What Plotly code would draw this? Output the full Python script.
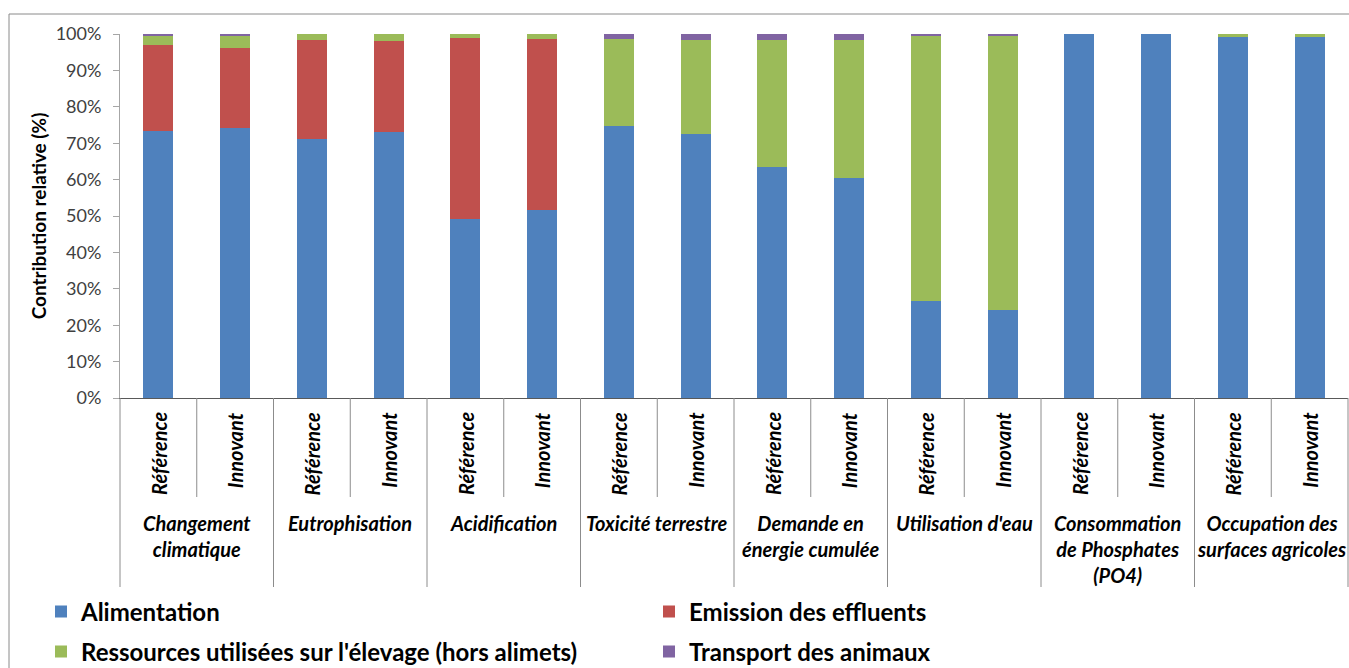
import plotly.graph_objects as go

groups = ["Changement<br>climatique", "Eutrophisation", "Acidification", "Toxicité terrestre",
          "Demande en<br>énergie cumulée", "Utilisation d'eau",
          "Consommation<br>de Phosphates<br>(PO4)", "Occupation des<br>surfaces agricoles"]
scenarios = ["Référence", "Innovant"]

alimentation = [73.4, 74.3, 71.2, 73.0, 49.2, 51.6, 74.8, 72.4, 63.4, 60.4, 26.6, 24.2, 100.0, 100.0, 99.3, 99.2]
effluents    = [23.6, 21.9, 27.2, 25.1, 49.8, 47.0, 0.0, 0.0, 0.0, 0.0, 0.0, 0.0, 0.0, 0.0, 0.0, 0.0]
ressources   = [2.5, 3.3, 1.6, 1.9, 1.0, 1.4, 23.8, 26.0, 35.0, 38.0, 72.9, 75.3, 0.0, 0.0, 0.7, 0.8]
transport    = [0.5, 0.5, 0.0, 0.0, 0.0, 0.0, 1.4, 1.6, 1.6, 1.6, 0.5, 0.5, 0.0, 0.0, 0.0, 0.0]

series_names = ["Alimentation", "Emission des effluents",
                "Ressources utilisées sur l'élevage (hors alimets)", "Transport des animaux"]
series_values = [alimentation, effluents, ressources, transport]
colors = ["#4F81BD", "#C0504D", "#9BBB59", "#8064A2"]
legend_ids = ["legend", "legend", "legend2", "legend2"]

y_ticks = list(range(0, 101, 10))

# category labels
cats = []
for g in groups:
    for s in scenarios:
        cats.append(g.replace("<br>", " ") + " | " + s)
n = len(cats)

FONT = "Lato"
fig = go.Figure()
for name, vals, col, lg in zip(series_names, series_values, colors, legend_ids):
    fig.add_trace(go.Bar(x=cats, y=vals, name=name, marker=dict(color=col, line=dict(width=0)),
                         legend=lg, hoverinfo="skip"))

# geometry helpers (pixel -> paper)
L, R, T, B = 120, 1, 34, 270
W, H = 1349, 668
pw, ph = W - L - R, H - T - B
def py(pix):
    return (H - B - pix) / ph
def px(pix):
    return (pix - L) / pw

shapes = []
annotations = []
# dividers
for k in range(n + 1):
    is_group = (k % 2 == 0)
    shapes.append(dict(type="line", xref="paper", yref="paper",
                       x0=k / n, x1=k / n, y0=0, y1=py(587 if is_group else 497),
                       line=dict(color="#8c8c8c", width=1)))
# inner labels
for i, c in enumerate(cats):
    annotations.append(dict(x=i, y=py(410), xref="x", yref="paper", text=scenarios[i % 2],
                            textangle=-90, showarrow=False, yanchor="top", xanchor="center",
                            font=dict(family=FONT, size=20, color="#000", weight="bold", style="italic")))
# group labels
for gi, g in enumerate(groups):
    annotations.append(dict(x=2 * gi + 0.5, y=py(509), xref="x", yref="paper", text=g,
                            showarrow=False, yanchor="top", xanchor="center",
                            font=dict(family=FONT, size=20, color="#000", weight="bold", style="italic")))

# outer border
shapes.append(dict(type="rect", xref="paper", yref="paper", x0=px(9), x1=px(1400), y0=py(720), y1=py(14),
                   line=dict(color="#8a8a8a", width=1), fillcolor="rgba(0,0,0,0)"))

legend_font = dict(family=FONT, size=24, color="#000", weight="bold")
fig.update_layout(
    width=W, height=H,
    margin=dict(l=L, r=R, t=T, b=B, autoexpand=False),
    barmode="stack", bargap=0.61,
    plot_bgcolor="white", paper_bgcolor="white",
    font=dict(family=FONT, color="#404040"),
    xaxis=dict(type="category", range=[-0.5, n - 0.5], showticklabels=False, ticks="",
               showline=True, linecolor="#595959", linewidth=1, showgrid=False, zeroline=False),
    yaxis=dict(range=[0, 100], tickvals=y_ticks, ticktext=[f"{v}%" for v in y_ticks],
               showline=True, linecolor="#a6a6a6", linewidth=1, ticks="outside", ticklen=6,
               tickcolor="#a6a6a6", showgrid=False, zeroline=False,
               tickfont=dict(family=FONT, size=18, color="#404040"), ticklabelstandoff=8,
               title=dict(text="Contribution relative (%)", standoff=4,
                          font=dict(family=FONT, size=19, color="#000", weight="bold"))),
    legend=dict(orientation="h", x=px(41), xanchor="left", y=py(612), yanchor="middle",
                entrywidth=563, entrywidthmode="pixels", traceorder="normal",
                font=legend_font, bgcolor="rgba(0,0,0,0)"),
    legend2=dict(orientation="h", x=px(41), xanchor="left", y=py(652), yanchor="middle",
                 entrywidth=563, entrywidthmode="pixels", traceorder="normal",
                 font=legend_font, bgcolor="rgba(0,0,0,0)"),
    shapes=shapes, annotations=annotations, showlegend=True,
)

fig.write_html("out.html", config={"displayModeBar": False},
               post_script="document.body.style.margin='0';document.body.style.overflow='hidden';")
